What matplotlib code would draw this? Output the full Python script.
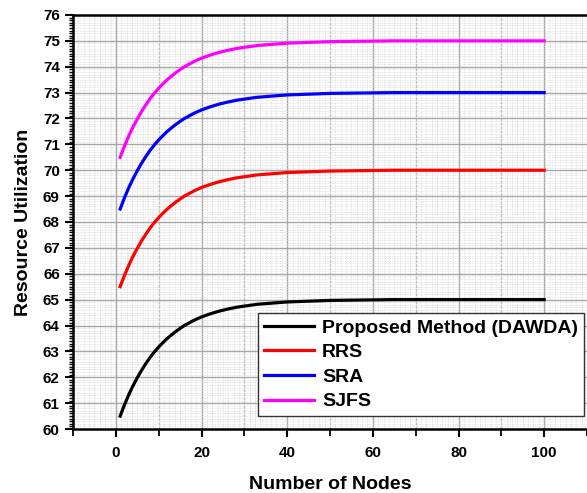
import numpy as np
import matplotlib
matplotlib.use("Agg")
import matplotlib.pyplot as plt
from matplotlib.ticker import MultipleLocator

plt.rcParams['font.family'] = ['Liberation Sans', 'DejaVu Sans']
plt.rcParams['font.weight'] = 'bold'

# number of nodes
nodes = [1, 2, 3, 4, 5, 6, 7, 8, 9, 10, 11, 12, 13, 14, 15, 16, 17, 18, 19, 20,
         22, 24, 26, 28, 30, 33, 36, 40, 45, 50, 55, 60, 65, 70, 80, 90, 100]

# resource utilization
dawda = [60.50, 60.93, 61.32, 61.67, 61.98, 62.27, 62.53, 62.77, 62.98, 63.17,
         63.34, 63.50, 63.64, 63.77, 63.89, 64.00, 64.09, 64.18, 64.26, 64.33,
         64.45, 64.55, 64.63, 64.70, 64.75, 64.82, 64.86, 64.91, 64.94, 64.97,
         64.98, 64.99, 65.00, 65.00, 65.00, 65.00, 65.00]
rrs = [65.50, 65.93, 66.32, 66.67, 66.98, 67.27, 67.53, 67.77, 67.98, 68.17,
       68.34, 68.50, 68.64, 68.77, 68.89, 69.00, 69.09, 69.18, 69.26, 69.33,
       69.45, 69.55, 69.63, 69.70, 69.75, 69.82, 69.86, 69.91, 69.94, 69.97,
       69.98, 69.99, 70.00, 70.00, 70.00, 70.00, 70.00]
sra = [68.50, 68.93, 69.32, 69.67, 69.98, 70.27, 70.53, 70.77, 70.98, 71.17,
       71.34, 71.50, 71.64, 71.77, 71.89, 72.00, 72.09, 72.18, 72.26, 72.33,
       72.45, 72.55, 72.63, 72.70, 72.75, 72.82, 72.86, 72.91, 72.94, 72.97,
       72.98, 72.99, 73.00, 73.00, 73.00, 73.00, 73.00]
sjfs = [70.50, 70.93, 71.32, 71.67, 71.98, 72.27, 72.53, 72.77, 72.98, 73.17,
        73.34, 73.50, 73.64, 73.77, 73.89, 74.00, 74.09, 74.18, 74.26, 74.33,
        74.45, 74.55, 74.63, 74.70, 74.75, 74.82, 74.86, 74.91, 74.94, 74.97,
        74.98, 74.99, 75.00, 75.00, 75.00, 75.00, 75.00]

labels = ['Proposed Method (DAWDA)', 'RRS', 'SRA', 'SJFS']
colors = ['black', 'red', 'blue', 'magenta']

fig = plt.figure(figsize=(5.87, 4.93), dpi=100)
ax = fig.add_axes([0.1244, 0.1298, 0.8756, 0.8398])

# dotted background texture
for xv in np.arange(-10, 110.1, 1.25):
    ax.axvline(xv, color='#dcdcdc', lw=0.6, ls=(0, (1, 1)), zorder=0)
ax.grid(which='minor', axis='y', color='#dcdcdc', lw=0.6, ls=(0, (1, 1)), zorder=0)
ax.grid(which='major', color='#a6a6a6', lw=1.0, zorder=1)
for xv in np.arange(10, 110, 20):
    ax.axvline(xv, color='#bdbdbd', lw=1.0, ls=(0, (2, 1)), zorder=1)

for ys, c, lab in zip([dawda, rrs, sra, sjfs], colors, labels):
    ax.plot(nodes, ys, color=c, lw=2.3, label=lab, zorder=3)

ax.set_xlim(-10, 110)
ax.set_ylim(60, 76)
ax.xaxis.set_major_locator(MultipleLocator(20))
ax.xaxis.set_minor_locator(MultipleLocator(10))
ax.yaxis.set_major_locator(MultipleLocator(1))
ax.yaxis.set_minor_locator(MultipleLocator(0.1))

ax.tick_params(which='major', direction='out', length=6, width=1.5, labelsize=11)
ax.tick_params(axis='x', which='major', pad=6)
ax.tick_params(which='minor', direction='out', length=3, width=1.0)
ax.tick_params(axis='x', which='minor', length=5, width=1.3)
for t in ax.get_xticklabels() + ax.get_yticklabels():
    t.set_fontweight('bold')

for s in ['left', 'bottom', 'top']:
    ax.spines[s].set_linewidth(1.8)
ax.spines['right'].set_visible(False)

ax.set_xlabel('Number of Nodes', fontsize=14, fontweight='bold', labelpad=12)
ax.set_ylabel('Resource Utilization', fontsize=14, fontweight='bold', labelpad=8)

leg = ax.legend(loc='lower right', bbox_to_anchor=(0.994, 0.031), borderaxespad=0,
                handlelength=2.6, handletextpad=0.4, labelspacing=0.36,
                borderpad=0.3, fancybox=False, framealpha=1, edgecolor='#333333',
                prop={'weight': 'bold', 'size': 14})
leg.get_frame().set_linewidth(1.0)

fig.savefig('out.png', dpi=100)
